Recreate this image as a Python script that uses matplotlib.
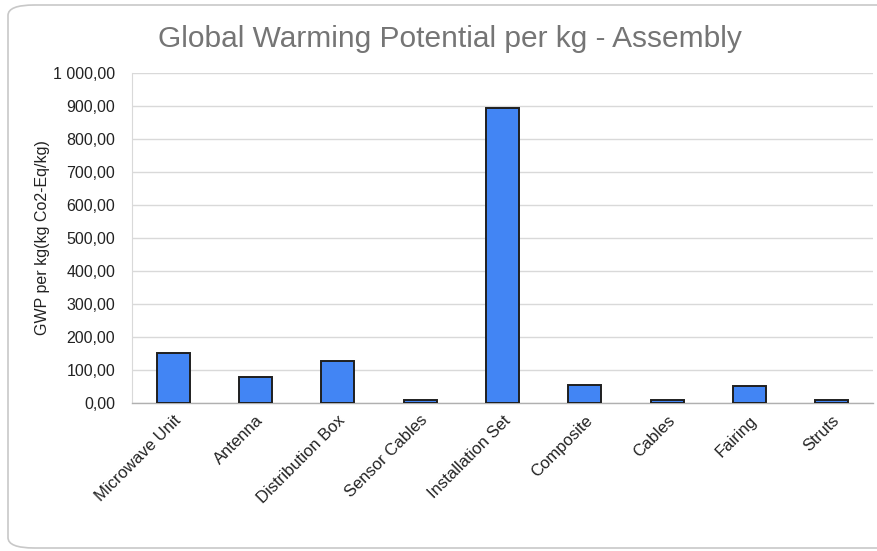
import matplotlib
matplotlib.use("Agg")
import matplotlib.pyplot as plt
from matplotlib.patches import FancyBboxPatch
from matplotlib.ticker import FuncFormatter

categories = ["Microwave Unit", "Antenna", "Distribution Box", "Sensor Cables",
              "Installation Set", "Composite", "Cables", "Fairing", "Struts"]
gwp_per_kg = [152, 78, 128, 8, 894, 56, 8, 53, 8]

title = "Global Warming Potential per kg - Assembly"
ylabel = "GWP per kg(kg Co2-Eq/kg)"

plt.rcParams["font.family"] = ["Liberation Sans", "DejaVu Sans"]

fig = plt.figure(figsize=(8.78, 5.51), dpi=100)
fig.patch.set_facecolor("white")

# rounded chart frame
frame = FancyBboxPatch((8 / 878, 3 / 551), 900 / 878, 543 / 551,
                       boxstyle="round,pad=0,rounding_size=0.03",
                       transform=fig.transFigure, facecolor="none",
                       edgecolor="#c8c8c8", linewidth=1.2, zorder=0,
                       mutation_aspect=551 / 878)
fig.patches.append(frame)

ax = fig.add_axes([132 / 878, 1 - 403 / 551, 741 / 878, 330 / 551])
ax.set_facecolor("none")

x = range(len(categories))
ax.bar(x, gwp_per_kg, width=0.4, color="#4285f4", edgecolor="#1f1f1f",
       linewidth=1.4, zorder=3)

ax.set_xlim(-0.5, len(categories) - 0.5)
ax.set_ylim(0, 1000)
ax.set_yticks(range(0, 1001, 100))


def fmt(v, _):
    s = f"{v:,.2f}"
    return s.replace(",", " ").replace(".", ",")


ax.yaxis.set_major_formatter(FuncFormatter(fmt))
ax.grid(axis="y", color="#d9d9d9", linewidth=1.0, zorder=0)
ax.set_axisbelow(True)

for side in ("top", "right"):
    ax.spines[side].set_visible(False)
ax.spines["left"].set_color("#d9d9d9")
ax.spines["bottom"].set_color("#b0b0b0")
ax.spines["bottom"].set_linewidth(1.0)

ax.set_xticks(list(x))
ax.set_xticklabels(categories, rotation=45, ha="right", rotation_mode="anchor",
                   fontsize=12, color="#222222")
ax.tick_params(axis="x", length=0, pad=7)
ax.tick_params(axis="y", length=0, pad=12, labelsize=11.5, labelcolor="#222222")

ax.set_ylabel(ylabel, fontsize=11.5, color="#222222", labelpad=2)

fig.text(450 / 878, 1 - 39 / 551, title, ha="center", va="center",
         fontsize=21.5, color="#757575")

fig.savefig("out.png", dpi=100)
